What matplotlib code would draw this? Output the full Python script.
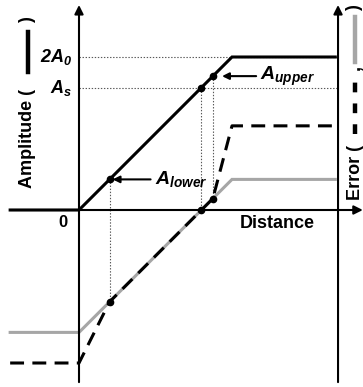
import matplotlib
matplotlib.use('Agg')
import matplotlib.pyplot as plt
from matplotlib.lines import Line2D

plt.rcParams['font.family'] = ['Liberation Sans', 'DejaVu Sans']
plt.rcParams['font.weight'] = 'bold'
# all math labels in bold italic sans
plt.rcParams['mathtext.fontset'] = 'custom'
plt.rcParams['mathtext.it'] = 'Liberation Sans:style=italic:weight=bold'
plt.rcParams['mathtext.rm'] = 'Liberation Sans:style=italic:weight=bold'
plt.rcParams['mathtext.default'] = 'it'
plt.rcParams['lines.scale_dashes'] = False

# levels, in units of A0
A0 = 1.0
A_lower = 0.4
A_s = 1.6
A_upper = 1.75

# amplitude (clipped at 2A0)
amp_x = [-0.9, 0.0, 2.0, 3.35]
amp_y = [0.0, 0.0, 2.0, 2.0]

# error curves
err_grey_x = [-0.9, 0.0, 2.0, 3.35]
err_grey_y = [-1.6, -1.6, 0.4, 0.4]
err_dash_x = [-0.9, 0.0, 0.4, 1.6, 1.75, 2.0, 3.35]
err_dash_y = [-2.0, -2.0, -1.2, 0.0, 0.15, 1.1, 1.1]

W, H = 363, 387
fig = plt.figure(figsize=(W / 100, H / 100), dpi=100)
ax = fig.add_axes([0, 0, 1, 1])
ax.set_xlim(-79 / 76.5, (W - 79) / 76.5)
ax.set_ylim((210 - H) / 76.5, 210 / 76.5)
ax.axis('off')

x_right = 3.386
y_bot, y_top = -2.25, 2.68


def arrow(ax, start, end):
    ax.annotate('', xy=end, xytext=start,
                arrowprops=dict(arrowstyle='-|>', lw=1.5, color='k',
                                mutation_scale=13, shrinkA=0, shrinkB=0))


# axes with arrow heads
arrow(ax, (0, y_bot), (0, y_top))
arrow(ax, (x_right, y_bot), (x_right, y_top))
arrow(ax, (-0.9, 0), (3.71, 0))

# dotted guides
dot = dict(color='0.35', lw=0.8, ls=(0, (1, 1.2)))
ax.plot([0, x_right], [2 * A0, 2 * A0], **dot)
ax.plot([0, x_right], [A_s, A_s], **dot)
ax.plot([A_lower, A_lower], [A_lower, err_dash_y[2]], **dot)
ax.plot([A_s, A_s], [A_s, 0], **dot)
ax.plot([A_upper, A_upper], [A_upper, err_dash_y[4]], **dot)

# curves
ax.plot(err_grey_x, err_grey_y, color='#a6a6a6', lw=2.2,
        solid_joinstyle='miter')
ax.plot(err_dash_x, err_dash_y, color='k', lw=2.2, dashes=(10, 6))
ax.plot(amp_x, amp_y, color='k', lw=2.2, solid_joinstyle='miter')

# marked points
ax.plot([A_lower, A_lower, A_s, A_s, A_upper, A_upper],
        [A_lower, err_dash_y[2], A_s, 0, A_upper, err_dash_y[4]],
        'o', color='k', ms=4.5)

# level labels
ax.text(-0.09, 2 * A0, r'$2A_0$', fontsize=13, ha='right', va='center')
ax.text(-0.09, A_s, r'$A_s$', fontsize=13, ha='right', va='center')
ax.text(-0.21, -0.16, '0', fontsize=12, ha='center', va='center')
ax.text(2.59, -0.17, 'Distance', fontsize=13, ha='center', va='center')

# point annotations
ax.annotate(r'$A_{lower}$', xy=(A_lower + 0.04, A_lower),
            xytext=(0.99, A_lower), fontsize=14, ha='left', va='center',
            arrowprops=dict(arrowstyle='-|>', lw=1.5, color='k',
                            mutation_scale=10, shrinkA=1, shrinkB=0))
ax.annotate(r'$A_{upper}$', xy=(A_upper + 0.12, A_upper),
            xytext=(2.37, A_upper), fontsize=14, ha='left', va='center',
            arrowprops=dict(arrowstyle='-|>', lw=1.5, color='k',
                            mutation_scale=10, shrinkA=1, shrinkB=0))


def fx(px):
    return px / W


def fy(py):
    return 1 - py / H


# left axis title with line sample
fig.text(fx(28), fy(188), 'Amplitude (', rotation=90, fontsize=13,
         ha='center', va='bottom')
fig.add_artist(Line2D([fx(28), fx(28)], [fy(72), fy(32)], color='k', lw=3.2,
                      transform=fig.transFigure))
fig.text(fx(28), fy(20), ')', rotation=90, fontsize=13,
         ha='center', va='center')

# right axis title with line samples
xr = 355
fig.text(fx(xr), fy(200), 'Error (', rotation=90, fontsize=13,
         ha='center', va='bottom')
fig.add_artist(Line2D([fx(xr), fx(xr)], [fy(134), fy(76)], color='k', lw=3.2,
                      dashes=(7, 8), transform=fig.transFigure))
fig.text(fx(xr), fy(67), ',', rotation=90, fontsize=13,
         ha='center', va='center')
fig.add_artist(Line2D([fx(xr), fx(xr)], [fy(62), fy(17)], color='#a6a6a6',
                      lw=3.2, transform=fig.transFigure))
fig.text(fx(xr), fy(8), ')', rotation=90, fontsize=13,
         ha='center', va='center')

fig.savefig('out.png', dpi=100)
